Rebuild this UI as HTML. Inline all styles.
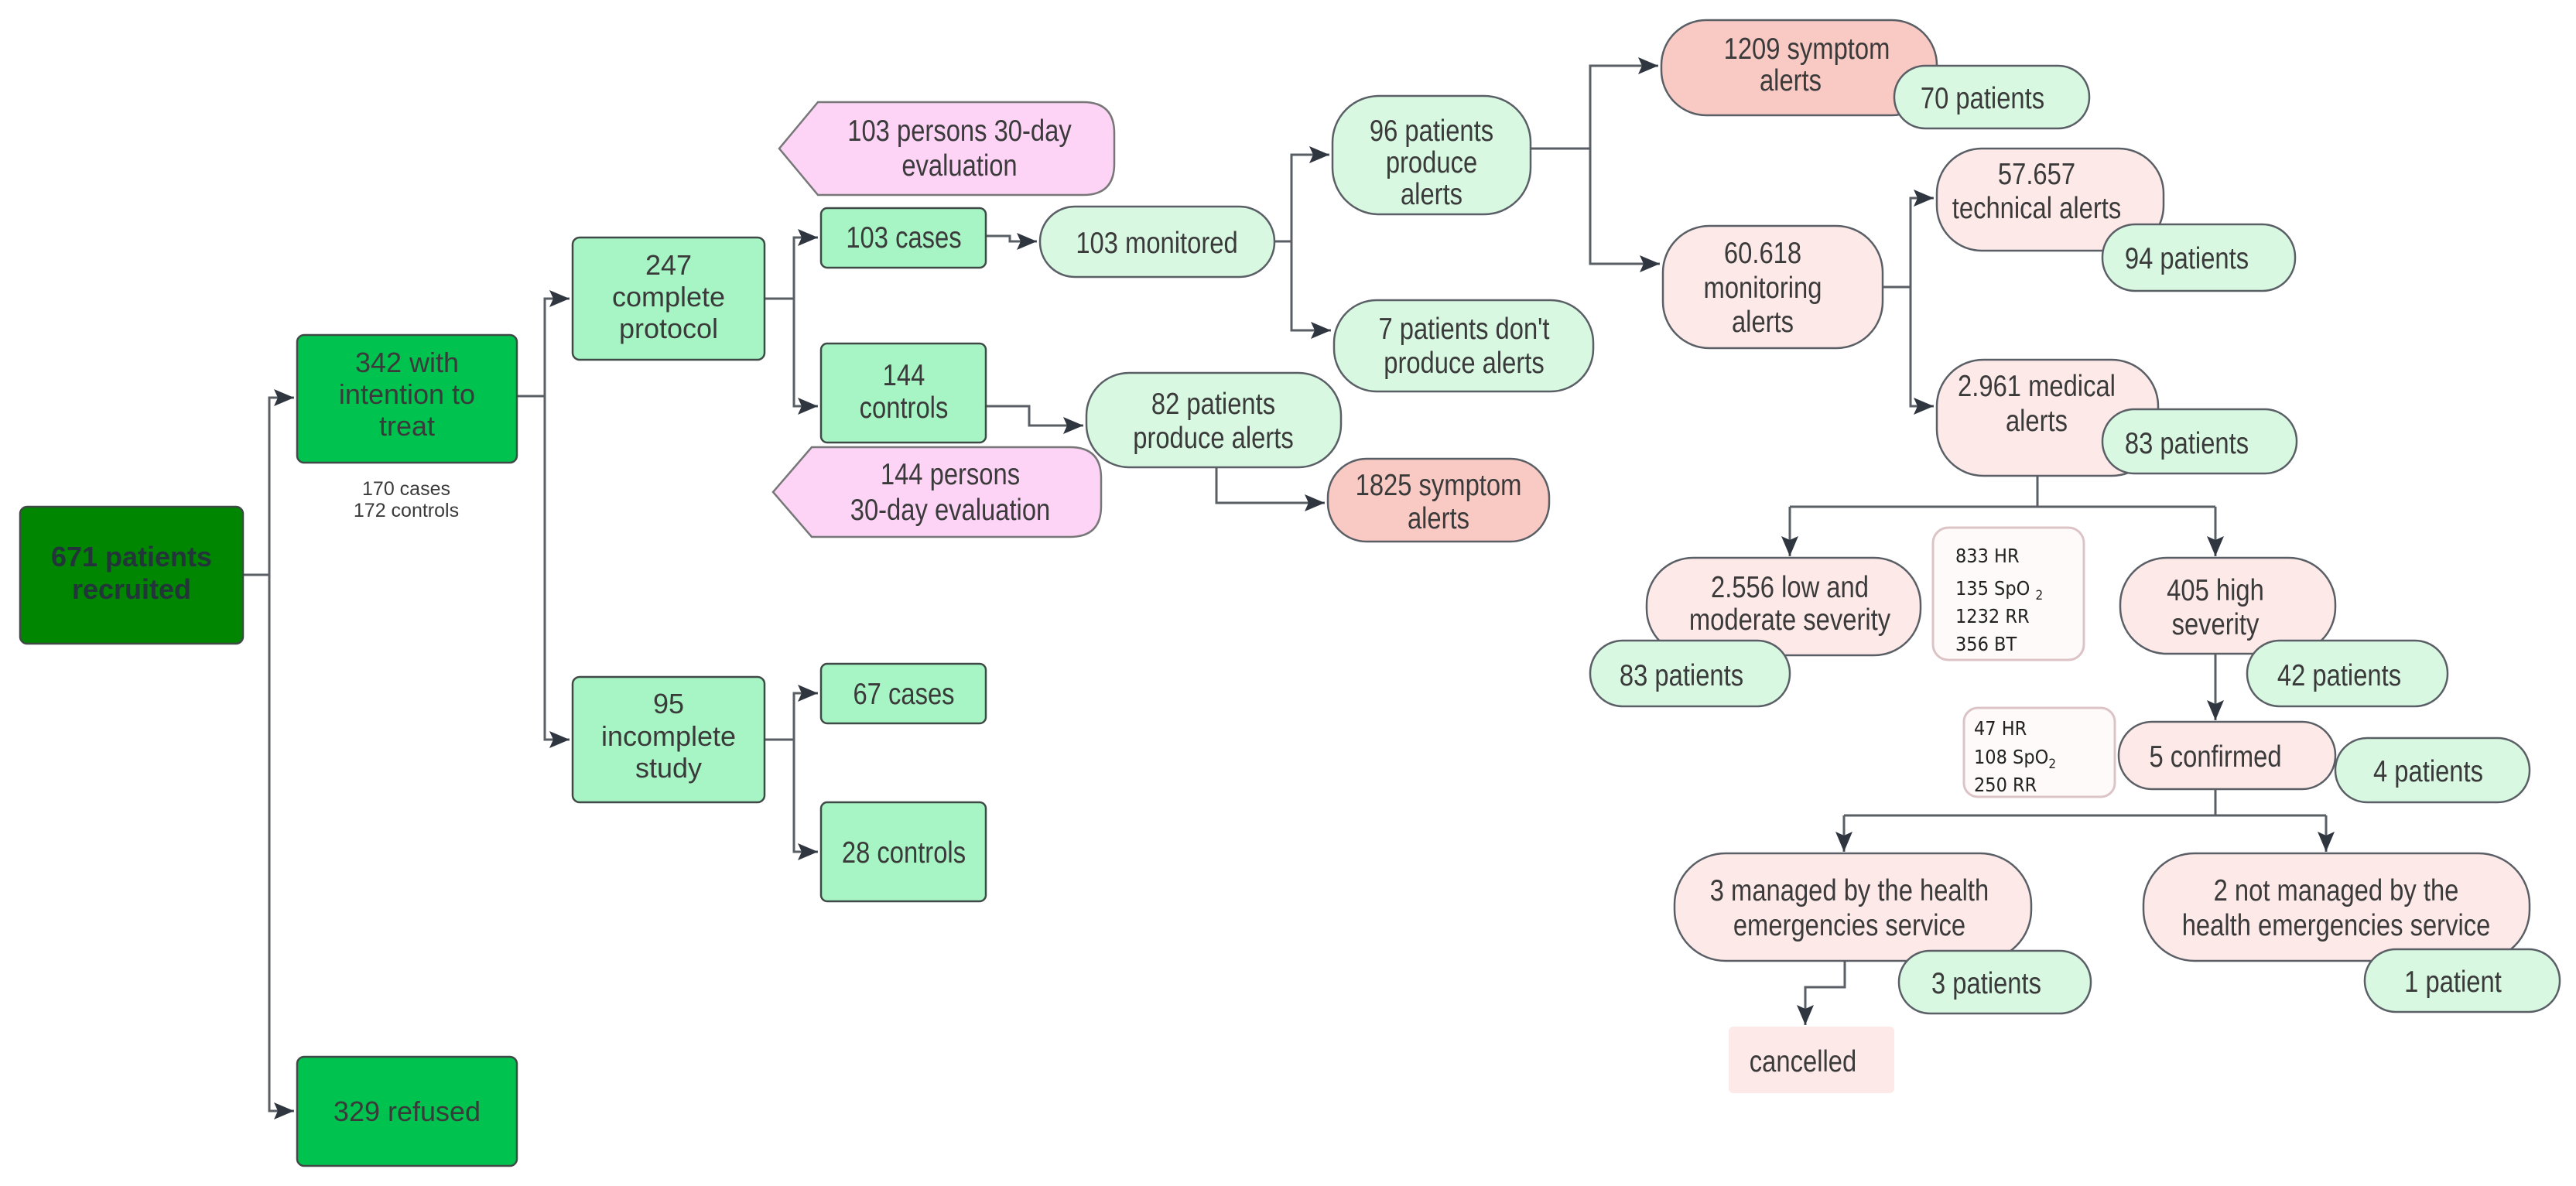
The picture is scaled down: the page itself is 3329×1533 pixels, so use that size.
<!DOCTYPE html>
<html><head><meta charset="utf-8"><style>
html,body{margin:0;padding:0;background:#fff}
svg{display:block}
text{font-family:"Liberation Sans",Arial,sans-serif;fill:#3a3a3a;text-anchor:middle}
text.n{font-family:"Liberation Sans",sans-serif;font-size:39px;transform-box:fill-box;transform-origin:center;transform:scaleX(.84)}
.s{font-family:"DejaVu Sans Condensed","Liberation Sans",sans-serif;text-anchor:start;font-size:25px;fill:#222}
</style></head><body>
<svg width="3329" height="1533" viewBox="0 0 3329 1533" xmlns="http://www.w3.org/2000/svg">
<defs>
<marker id="b" markerWidth="26" markerHeight="22" refX="26" refY="11" orient="auto" markerUnits="userSpaceOnUse">
<path d="M0,0 L26,11 L0,22 L5,11 Z" fill="#2f3640"/></marker>
</defs>
<g fill="none" stroke="#5a5f66" stroke-width="3">
<path d="M314,743 H348 V514 H380" marker-end="url(#b)"/>
<path d="M348,743 V1436 H380" marker-end="url(#b)"/>
<path d="M668,512 H704 V386 H736" marker-end="url(#b)"/>
<path d="M704,512 V956 H736" marker-end="url(#b)"/>
<path d="M988,386 H1026 V307 H1057" marker-end="url(#b)"/>
<path d="M1026,386 V525 H1057" marker-end="url(#b)"/>
<path d="M988,956 H1026 V896 H1057" marker-end="url(#b)"/>
<path d="M1026,956 V1101 H1057" marker-end="url(#b)"/>
<path d="M1274,305 H1305 V312 H1340" marker-end="url(#b)"/>
<path d="M1274,525 H1330 V550 H1400" marker-end="url(#b)"/>
<path d="M1572,604 V650 H1712" marker-end="url(#b)"/>
<path d="M1647,312 H1669 V200 H1718" marker-end="url(#b)"/>
<path d="M1669,312 V427 H1720" marker-end="url(#b)"/>
<path d="M1978,192 H2055 V85 H2143" marker-end="url(#b)"/>
<path d="M2055,192 V341 H2145" marker-end="url(#b)"/>
<path d="M2433,371 H2469 V256 H2499" marker-end="url(#b)"/>
<path d="M2469,371 V525 H2499" marker-end="url(#b)"/>
<path d="M2633,615 V655"/>
<path d="M2313,655 H2863"/>
<path d="M2313,655 V719" marker-end="url(#b)"/>
<path d="M2863,655 V719" marker-end="url(#b)"/>
<path d="M2863,845 V931" marker-end="url(#b)"/>
<path d="M2863,1020 V1054"/>
<path d="M2383,1054 H3006"/>
<path d="M2383,1054 V1101" marker-end="url(#b)"/>
<path d="M3006,1054 V1101" marker-end="url(#b)"/>
<path d="M2384,1242 V1276 H2333 V1325" marker-end="url(#b)"/>
</g>
<g stroke="#3f4a46" stroke-width="2.5">
<rect x="26" y="655" width="288" height="177" rx="9" fill="#008600"/>
<rect x="384" y="433" width="284" height="165" rx="9" fill="#00c24f"/>
<rect x="384" y="1366" width="284" height="141" rx="9" fill="#00c24f"/>
<rect x="740" y="307" width="248" height="158" rx="9" fill="#a7f5c5"/>
<rect x="740" y="875" width="248" height="162" rx="9" fill="#a7f5c5"/>
<rect x="1061" y="269" width="213" height="77" rx="8" fill="#a7f5c5"/>
<rect x="1061" y="444" width="213" height="128" rx="8" fill="#a7f5c5"/>
<rect x="1061" y="858" width="213" height="77" rx="8" fill="#a7f5c5"/>
<rect x="1061" y="1037" width="213" height="128" rx="8" fill="#a7f5c5"/>
</g>
<g stroke="#777" stroke-width="2.5" fill="#fdd4f6">
<path d="M1057,132 H1400 Q1440,132 1440,172 V212 Q1440,252 1400,252 H1057 L1007,192 Z"/>
<path d="M1049,578 H1383 Q1423,578 1423,618 V654 Q1423,694 1383,694 H1049 L999,636 Z"/>
</g>
<g stroke="#5a5f66" stroke-width="2.5">
<rect x="1344" y="267" width="303" height="91" rx="45" fill="#d8f8e2"/>
<rect x="1404" y="482" width="329" height="122" rx="55" fill="#d8f8e2"/>
<rect x="1716" y="593" width="286" height="107" rx="50" fill="#f9c9c4"/>
<rect x="1722" y="124" width="256" height="153" rx="60" fill="#d8f8e2"/>
<rect x="1724" y="388" width="335" height="118" rx="55" fill="#d8f8e2"/>
<rect x="2147" y="26" width="356" height="123" rx="58" fill="#f9c9c4"/>
<rect x="2448" y="85" width="252" height="81" rx="40" fill="#d8f8e2"/>
<rect x="2149" y="292" width="284" height="158" rx="60" fill="#fde9e8"/>
<rect x="2503" y="192" width="293" height="132" rx="58" fill="#fde9e8"/>
<rect x="2717" y="290" width="249" height="86" rx="42" fill="#d8f8e2"/>
<rect x="2503" y="465" width="286" height="150" rx="60" fill="#fde9e8"/>
<rect x="2717" y="529" width="251" height="83" rx="41" fill="#d8f8e2"/>
<rect x="2128" y="721" width="354" height="126" rx="60" fill="#fde9e8"/>
<rect x="2740" y="721" width="278" height="124" rx="60" fill="#fde9e8"/>
<rect x="2055" y="828" width="258" height="85" rx="42" fill="#d8f8e2"/>
<rect x="2904" y="828" width="259" height="85" rx="42" fill="#d8f8e2"/>
<rect x="2738" y="933" width="280" height="87" rx="43" fill="#fde9e8"/>
<rect x="3018" y="954" width="251" height="83" rx="41" fill="#d8f8e2"/>
<rect x="2164" y="1103" width="461" height="139" rx="66" fill="#fde9e8"/>
<rect x="2454" y="1229" width="248" height="81" rx="40" fill="#d8f8e2"/>
<rect x="2770" y="1103" width="499" height="139" rx="66" fill="#fde9e8"/>
<rect x="3056" y="1227" width="252" height="81" rx="40" fill="#d8f8e2"/>
</g>
<rect x="2234" y="1327" width="214" height="86" rx="6" fill="#fde9e8"/>
<g stroke="#dcc4c6" stroke-width="3" fill="#fffafa">
<rect x="2498" y="682" width="195" height="171" rx="20"/>
<rect x="2538" y="915" width="195" height="115" rx="18"/>
</g>
<g font-size="36">
<text x="170" y="732" font-weight="bold" style="fill:#23353a">671 patients</text>
<text x="170" y="774" font-weight="bold" style="fill:#23353a">recruited</text>
<text x="526" y="481">342 with</text>
<text x="526" y="522">intention to</text>
<text x="526" y="563">treat</text>
<text x="526" y="1449">329 refused</text>
<text x="864" y="355">247</text>
<text x="864" y="396">complete</text>
<text x="864" y="437">protocol</text>
<text x="864" y="922">95</text>
<text x="864" y="964">incomplete</text>
<text x="864" y="1005">study</text>
</g>
<g font-size="25"><text x="525" y="640">170 cases</text><text x="525" y="668">172 controls</text></g>
<text class="n" x="1168" y="320">103 cases</text>
<text class="n" x="1168" y="498">144</text>
<text class="n" x="1168" y="540">controls</text>
<text class="n" x="1168" y="910">67 cases</text>
<text class="n" x="1168" y="1115">28 controls</text>
<text class="n" x="1240" y="182">103 persons 30-day</text>
<text class="n" x="1240" y="227">evaluation</text>
<text class="n" x="1228" y="626">144 persons</text>
<text class="n" x="1228" y="672">30-day evaluation</text>
<text class="n" x="1495" y="327">103 monitored</text>
<text class="n" x="1568" y="535">82 patients</text>
<text class="n" x="1568" y="579">produce alerts</text>
<text class="n" x="1859" y="640">1825 symptom</text>
<text class="n" x="1859" y="683">alerts</text>
<text class="n" x="1850" y="182">96 patients</text>
<text class="n" x="1850" y="223">produce</text>
<text class="n" x="1850" y="264">alerts</text>
<text class="n" x="1892" y="438">7 patients don't</text>
<text class="n" x="1892" y="482">produce alerts</text>
<text class="n" x="2335" y="76">1209 symptom</text>
<text class="n" x="2314" y="117">alerts</text>
<text class="n" x="2562" y="140">70 patients</text>
<text class="n" x="2278" y="340">60.618</text>
<text class="n" x="2278" y="385">monitoring</text>
<text class="n" x="2278" y="429">alerts</text>
<text class="n" x="2632" y="238">57.657</text>
<text class="n" x="2632" y="282">technical alerts</text>
<text class="n" x="2826" y="347">94 patients</text>
<text class="n" x="2632" y="512">2.961 medical</text>
<text class="n" x="2632" y="557">alerts</text>
<text class="n" x="2826" y="586">83 patients</text>
<text class="n" x="2313" y="772">2.556 low and</text>
<text class="n" x="2313" y="814">moderate severity</text>
<text class="n" x="2863" y="776">405 high</text>
<text class="n" x="2863" y="820">severity</text>
<text class="n" x="2173" y="886">83 patients</text>
<text class="n" x="3023" y="886">42 patients</text>
<text class="n" x="2863" y="991">5 confirmed</text>
<text class="n" x="3138" y="1010">4 patients</text>
<text class="n" x="2390" y="1164">3 managed by the health</text>
<text class="n" x="2390" y="1209">emergencies service</text>
<text class="n" x="2567" y="1284">3 patients</text>
<text class="n" x="3019" y="1164">2 not managed by the</text>
<text class="n" x="3019" y="1209">health emergencies service</text>
<text class="n" x="3170" y="1282">1 patient</text>
<text class="n" x="2330" y="1385">cancelled</text>
<text class="s" x="2527" y="727">833 HR</text>
<text class="s" x="2527" y="769">135 SpO <tspan font-size="17" dy="6">2</tspan></text>
<text class="s" x="2527" y="805">1232 RR</text>
<text class="s" x="2527" y="841">356 BT</text>
<text class="s" x="2551" y="950">47 HR</text>
<text class="s" x="2551" y="987">108 SpO<tspan font-size="17" dy="6">2</tspan></text>
<text class="s" x="2551" y="1023">250 RR</text>
</svg>
</body></html>
